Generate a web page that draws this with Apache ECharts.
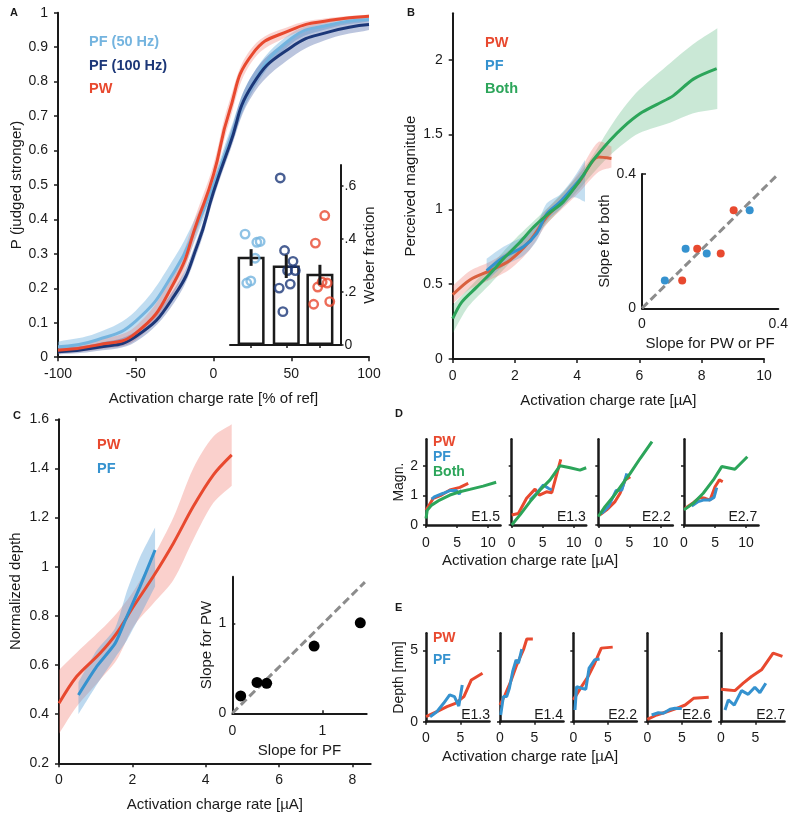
<!DOCTYPE html>
<html>
<head>
<meta charset="utf-8">
<script src="https://cdn.jsdelivr.net/npm/echarts@6/dist/echarts.min.js"></script>
<style>
  html, body { margin: 0; background: #fff; }
  #fig { width: 795px; height: 821px; }
</style>
</head>
<body>
<div id="fig"></div>
<script>
// ---- colours
const INK = '#1a1a1a';
const RED = '#e8492f', LBLUE = '#74b4df', NAVY = '#1c3778', BLUE = '#3592cf', GREEN = '#2ca55a';
const FONT = '"Liberation Sans", Arial, Helvetica, sans-serif';

// ---- A: psychometric curves
const aX = [-100, -75, -50, -25, -10, 0, 10, 25, 50, 75, 100];
const aPW = [0.02, 0.035, 0.07, 0.22, 0.40, 0.53, 0.71, 0.88, 0.95, 0.978, 0.99];
const aPWLo = [0.01, 0.022, 0.05, 0.19, 0.37, 0.50, 0.68, 0.86, 0.935, 0.97, 0.985];
const aPWHi = [0.03, 0.05, 0.09, 0.25, 0.43, 0.56, 0.74, 0.90, 0.962, 0.985, 0.995];
const aPF100 = [0.016, 0.028, 0.06, 0.18, 0.33, 0.48, 0.61, 0.79, 0.90, 0.945, 0.966];
const aPF100Lo = [0.008, 0.018, 0.045, 0.16, 0.31, 0.46, 0.59, 0.76, 0.87, 0.925, 0.95];
const aPF100Hi = [0.026, 0.04, 0.075, 0.20, 0.35, 0.50, 0.64, 0.82, 0.925, 0.965, 0.98];
const aPF50 = [0.03, 0.05, 0.105, 0.25, 0.39, 0.50, 0.62, 0.79, 0.925, 0.965, 0.98];
const aPF50Lo = [0.015, 0.03, 0.075, 0.21, 0.36, 0.48, 0.60, 0.77, 0.91, 0.955, 0.975];
const aPF50Hi = [0.045, 0.07, 0.135, 0.29, 0.42, 0.52, 0.65, 0.82, 0.94, 0.975, 0.988];

// A inset: Weber fractions
const barX = [0.611, 1.629, 2.604];
const barH = [0.333, 0.300, 0.269];
const errLo = [0.299, 0.253, 0.227];
const errHi = [0.362, 0.341, 0.303];
const wPF50X = [0.436, 0.777, 0.873, 0.727, 0.486, 0.602];
const wPF50Y = [0.419, 0.388, 0.391, 0.328, 0.234, 0.242];
const wPF100X = [1.455, 1.580, 1.824, 1.891, 1.667, 1.745, 1.425, 1.532];
const wPF100Y = [0.631, 0.357, 0.316, 0.281, 0.281, 0.230, 0.215, 0.126];
const wPWX = [2.743, 2.473, 2.540, 2.668, 2.813, 2.423, 2.889];
const wPWY = [0.489, 0.385, 0.219, 0.238, 0.234, 0.154, 0.164];

// ---- B: perceived magnitude
const bGreenX = [0, 0.29, 0.77, 1.2, 1.63, 2.16, 2.59, 3.07, 3.55, 4.04, 4.52, 5.05, 5.48, 6.02, 6.55, 7.09, 7.73, 8.48];
const bGreenY = [0.27, 0.38, 0.48, 0.57, 0.67, 0.78, 0.88, 0.97, 1.05, 1.18, 1.33, 1.46, 1.55, 1.64, 1.70, 1.76, 1.87, 1.94];
const bGreenBandX = [0, 0.5, 1.2, 2, 3, 4, 4.5, 5, 5.5, 6, 7, 7.7, 8.5];
const bGreenLo = [0.17, 0.35, 0.5, 0.68, 0.9, 1.12, 1.24, 1.35, 1.44, 1.51, 1.58, 1.64, 1.67];
const bGreenHi = [0.36, 0.47, 0.62, 0.80, 1.0, 1.22, 1.36, 1.53, 1.68, 1.80, 1.98, 2.1, 2.21];
const bRedX = [0, 0.56, 1.2, 1.84, 2.48, 3.02, 3.55, 4.09, 4.68, 5.1];
const bRedY = [0.43, 0.53, 0.59, 0.66, 0.79, 0.95, 1.06, 1.19, 1.35, 1.34];
const bRedLo = [0.37, 0.47, 0.53, 0.60, 0.73, 0.90, 1.01, 1.12, 1.25, 1.28];
const bRedHi = [0.49, 0.59, 0.65, 0.73, 0.85, 1.0, 1.11, 1.26, 1.45, 1.42];
const bBlueX = [1.09, 1.63, 2.27, 2.7, 3.02, 3.45, 3.88, 4.25];
const bBlueY = [0.59, 0.68, 0.75, 0.84, 0.97, 1.05, 1.15, 1.24];
const bBlueLo = [0.52, 0.62, 0.69, 0.79, 0.92, 1.0, 1.08, 1.05];
const bBlueHi = [0.67, 0.75, 0.82, 0.90, 1.04, 1.10, 1.21, 1.33];
// B inset: slopes
const sRedX = [0.269, 0.162, 0.231, 0.118];
const sRedY = [0.292, 0.177, 0.163, 0.083];
const sBlueX = [0.316, 0.128, 0.19, 0.067];
const sBlueY = [0.292, 0.177, 0.163, 0.083];
const diagBX = [0, 0.4], diagBY = [0, 0.4];

// ---- C: normalized depth
const cRedX = [0, 0.48, 1.12, 1.57, 2.03, 2.57, 3.12, 3.66, 4.21, 4.71];
const cRedY = [0.444, 0.553, 0.648, 0.729, 0.838, 0.96, 1.096, 1.245, 1.374, 1.455];
const cRedLo = [0.32, 0.43, 0.54, 0.62, 0.756, 0.85, 0.946, 1.11, 1.26, 1.33];
const cRedHi = [0.58, 0.65, 0.74, 0.81, 0.90, 1.04, 1.20, 1.40, 1.53, 1.58];
const cBlueX = [0.53, 1.03, 1.53, 1.85, 2.21, 2.62];
const cBlueY = [0.478, 0.594, 0.688, 0.797, 0.919, 1.068];
const cBlueLo = [0.40, 0.52, 0.63, 0.70, 0.80, 0.92];
const cBlueHi = [0.53, 0.66, 0.75, 0.90, 1.04, 1.16];
// C inset
const cInX = [0.093, 0.274, 0.381, 0.907, 1.419];
const cInY = [0.193, 0.344, 0.333, 0.748, 1.007];
const diagCX = [0, 1.47], diagCY = [0, 1.46];

// ---- D: magnitude per electrode [x, y]
const dNames = ['E1.5', 'E1.3', 'E2.2', 'E2.7'];
const dPW = [
  [[0, 0.5], [1.18, 0.9], [2.5, 1.01], [3.85, 1.18], [5.45, 1.27], [6.8, 1.4]],
  [[0, 0.34], [1.07, 0.39], [2.4, 0.9], [3.76, 1.21], [4.46, 1.01], [5.6, 1.12], [6.45, 1.09], [7.15, 1.63], [7.9, 2.21]],
  [[0.27, 0.34], [1.35, 0.51], [2.7, 0.79], [3.51, 1.07], [4.32, 1.52], [5.14, 1.63]],
  [[0.16, 0.56], [1.5, 0.75], [2.58, 0.93], [3.4, 0.9], [4.2, 0.84], [5.0, 1.29], [5.7, 1.52], [6.24, 1.46]]
];
const dPF = [
  [[0.9, 0.87], [1.44, 0.96], [2.78, 1.07], [3.85, 1.16], [4.9, 1.16], [5.35, 1.04], [5.7, 1.18]],
  [[2.96, 0.84], [4.03, 1.07], [5.1, 1.35], [5.9, 1.24], [6.45, 1.18]],
  [[0.54, 0.39], [1.62, 0.62], [2.86, 1.16], [3.78, 1.18], [4.6, 1.74]],
  [[1.24, 0.64], [2.3, 0.79], [3.1, 0.84], [4.1, 0.84], [4.84, 0.93], [5.27, 1.26]]
];
const dBoth = [
  [[0, 0.22], [0.2, 0.5], [0.9, 0.67], [2.2, 0.84], [3.85, 1.01], [5.45, 1.12], [7.06, 1.2], [9.2, 1.31], [11.3, 1.44]],
  [[0, 0], [1.34, 0.34], [2.96, 0.79], [4.57, 1.18], [6.18, 1.52], [7.8, 2.0], [9.4, 1.93], [11.0, 1.85], [12, 1.93]],
  [[0, 0.28], [1.08, 0.62], [2.43, 0.96], [3.78, 1.35], [5.14, 1.74], [6.76, 2.25], [8.65, 2.81]],
  [[0, 0.51], [1.5, 0.73], [3.1, 1.07], [4.73, 1.52], [6.08, 1.97], [8.2, 1.88], [10.2, 2.3]]
];

// ---- E: depth per electrode [x, y]
const eNames = ['E1.3', 'E1.4', 'E2.2', 'E2.6', 'E2.7'];
const ePW = [
  [[0, 0.35], [1.57, 0.7], [3.04, 1.06], [4.26, 1.29], [5.49, 1.76], [6.57, 2.93], [8.19, 3.4]],
  [[0, 1.17], [0.73, 1.88], [1.46, 2.7], [2.43, 3.99], [3.4, 5.05], [3.88, 5.8], [4.76, 5.8]],
  [[0, 1.53], [1.19, 2.46], [2.14, 3.17], [3.1, 4.1], [4.05, 5.16], [5.71, 5.23]],
  [[0, 0.16], [1.36, 0.47], [2.82, 0.7], [4.27, 0.94], [5.49, 1.17], [6.7, 1.64], [8.9, 1.71]],
  [[0, 2.28], [1.06, 2.23], [2.02, 2.18], [3.22, 2.7], [4.42, 3.17], [5.87, 3.64], [7.55, 4.81], [8.9, 4.58]]
];
const ePF = [
  [[0.59, 0.35], [1.57, 0.7], [2.55, 1.29], [3.43, 1.88], [4.12, 1.76], [4.75, 1.1], [5.25, 2.58]],
  [[0.1, 0.47], [0.49, 1.76], [0.97, 1.76], [1.36, 2.35], [1.84, 3.52], [2.33, 4.34], [2.67, 4.1], [3.16, 5.09]],
  [[0.24, 0.82], [0.48, 2.46], [1.19, 2.35], [1.81, 2.28], [2.29, 3.76], [3.1, 4.34], [3.81, 4.39]],
  [[0.63, 0.47], [1.6, 0.63], [2.33, 0.59], [3.3, 0.87], [4.03, 0.94], [5.0, 0.92]],
  [[0.58, 0.82], [1.06, 1.53], [1.92, 1.17], [2.98, 2.18], [3.94, 1.92], [4.9, 2.42], [5.63, 2.04], [6.49, 2.7]]
];

// ---- layout
const dLeft = [426, 511.7, 598.3, 684];
const eLeft = [426, 500, 573.3, 647.3, 721];
const grids = [
  {left: 58, top: 12.7, width: 311, height: 344.5},        // 0 A
  {left: 230, top: 165, width: 110.5, height: 180},        // 1 A inset
  {left: 452.7, top: 13.3, width: 311.3, height: 345.7},   // 2 B
  {left: 642, top: 174, width: 136.3, height: 134.3},      // 3 B inset
  {left: 59, top: 419.3, width: 311.7, height: 344},       // 4 C
  {left: 232.3, top: 576.7, width: 134.4, height: 136.6}   // 5 C inset
];
dLeft.forEach(l => grids.push({left: l, top: 439.3, width: 74.5, height: 85.7}));
eLeft.forEach(l => grids.push({left: l, top: 633.3, width: 63.5, height: 88.4}));

function merge(base, extra) {
  const out = Object.assign({}, base);
  Object.keys(extra || {}).forEach(k => {
    const v = extra[k];
    if (v && typeof v === 'object' && !Array.isArray(v) && base[k] && typeof base[k] === 'object') {
      out[k] = merge(base[k], v);
    } else out[k] = v;
  });
  return out;
}
function axis(gi, o) {
  return merge({
    gridIndex: gi, type: 'value', nameLocation: 'middle',
    axisLine: {show: true, onZero: false, lineStyle: {color: INK, width: 2}},
    axisTick: {show: true, length: 4, lineStyle: {color: INK, width: 1.5}},
    axisLabel: {color: INK, fontSize: 14, margin: 10, fontFamily: FONT},
    splitLine: {show: false},
    nameTextStyle: {color: INK, fontSize: 15, fontFamily: FONT}
  }, o);
}

const pts = (xs, ys) => xs.map((x, i) => [x, ys[i]]);
function curve(gi, data, color, width, smooth) {
  return {type: 'line', xAxisIndex: gi, yAxisIndex: gi, data, symbol: 'none',
    smooth: smooth || false, lineStyle: {color, width: width || 3}, z: 3, silent: true};
}
// shaded band between lo and hi, drawn as one polygon through the axes' scales;
// end vertices are doubled so the smoothing keeps square ends
function band(gi, xs, lo, hi, color, smooth) {
  return {type: 'custom', xAxisIndex: gi, yAxisIndex: gi, z: 2, silent: true, clip: true,
    data: xs.map((x, i) => [x, lo[i], hi[i]]), encode: {x: 0, y: [1, 2]},
    renderItem: (params, api) => {
      if (params.dataIndex !== 0) return null;
      const top = xs.map((x, i) => api.coord([x, hi[i]]));
      const bot = xs.map((x, i) => api.coord([x, lo[i]])).reverse();
      const ring = [top[0]].concat(top, [top[top.length - 1]], [bot[0]], bot, [bot[bot.length - 1]]);
      return {type: 'polygon', shape: {points: ring, smooth: smooth || 0}, style: {fill: color}};
    }};
}
function dots(gi, xs, ys, color, size, hollow) {
  return {type: 'scatter', xAxisIndex: gi, yAxisIndex: gi, data: pts(xs, ys), symbolSize: size,
    itemStyle: hollow ? {color: 'rgba(0,0,0,0)', borderColor: color, borderWidth: 2.4} : {color, opacity: 1}, z: 5, silent: true};
}
function dashed(gi, xs, ys) {
  return {type: 'line', xAxisIndex: gi, yAxisIndex: gi, data: pts(xs, ys), symbol: 'none',
    lineStyle: {color: '#8c8c8c', width: 3, type: [8, 4]}, z: 3, silent: true};
}

// ---- axes
const xAxes = [
  axis(0, {min: -100, max: 100, interval: 50, name: 'Activation charge rate [% of ref]', nameGap: 34}),
  axis(1, {min: 0, max: 3.2, axisLabel: {show: false},
    axisTick: {customValues: barX, length: 3}}),
  axis(2, {min: 0, max: 10, interval: 2, name: 'Activation charge rate [µA]', nameGap: 34}),
  axis(3, {min: 0, max: 0.4, name: 'Slope for PW or PF', nameGap: 28,
    axisTick: {show: false}, axisLabel: {customValues: [0, 0.4], margin: 9}}),
  axis(4, {min: 0, max: 8.5, name: 'Activation charge rate [µA]', nameGap: 34,
    axisTick: {customValues: [0, 2, 4, 6, 8]}, axisLabel: {customValues: [0, 2, 4, 6, 8]}}),
  axis(5, {min: 0, max: 1.49, name: 'Slope for PF', nameGap: 30,
    axisTick: {customValues: [1], inside: true, length: 3}, axisLabel: {customValues: [0, 1], margin: 11}})
];
const yAxes = [
  axis(0, {min: 0, max: 1, interval: 0.1, name: 'P (judged stronger)', nameGap: 34}),
  axis(1, {min: 0, max: 0.68, position: 'right', name: 'Weber fraction', nameGap: 22, nameRotate: 90,
    axisTick: {customValues: [0, 0.2, 0.4, 0.6], length: 3},
    axisLabel: {customValues: [0, 0.2, 0.4, 0.6], margin: 4,
      formatter: v => v === 0 ? '0' : String(+v.toFixed(1)).replace('0.', '.')}}),
  axis(2, {min: 0, max: 2.31, name: 'Perceived magnitude', nameGap: 34,
    axisTick: {customValues: [0, 0.5, 1, 1.5, 2]}, axisLabel: {customValues: [0, 0.5, 1, 1.5, 2]}}),
  axis(3, {min: 0, max: 0.4, name: 'Slope for both', nameGap: 16,
    axisTick: {customValues: [0.4], inside: true, length: 4}, axisLabel: {customValues: [0, 0.4], margin: 6}}),
  axis(4, {min: 0.2, max: 1.6, interval: 0.2, name: 'Normalized depth', nameGap: 36}),
  axis(5, {min: 0, max: 1.52, name: 'Slope for PW', nameGap: 16,
    axisTick: {customValues: [1], inside: true, length: 3}, axisLabel: {customValues: [0, 1], margin: 6}})
];
dLeft.forEach((l, k) => {
  const gi = 6 + k;
  xAxes.push(axis(gi, {min: 0, max: 12, axisLine: {lineStyle: {width: 2.5}},
    axisTick: {customValues: [0, 5, 10], length: 3}, axisLabel: {customValues: [0, 5, 10], margin: 11}}));
  yAxes.push(axis(gi, {min: 0, max: 2.89, axisLine: {lineStyle: {width: 2.5}},
    name: k === 0 ? 'Magn.' : '', nameGap: 18, nameTextStyle: {fontSize: 14},
    axisTick: {customValues: [0, 1, 2], length: 3},
    axisLabel: {show: k === 0, customValues: [0, 1, 2], margin: 8}}));
});
eLeft.forEach((l, k) => {
  const gi = 10 + k;
  xAxes.push(axis(gi, {min: 0, max: 9.2, axisLine: {lineStyle: {width: 2.5}},
    axisTick: {customValues: [0, 5], length: 3}, axisLabel: {customValues: [0, 5], margin: 9}}));
  yAxes.push(axis(gi, {min: 0, max: 6.2, axisLine: {lineStyle: {width: 2.5}},
    name: k === 0 ? 'Depth [mm]' : '', nameGap: 18, nameTextStyle: {fontSize: 14},
    axisTick: {customValues: [0, 5], length: 3},
    axisLabel: {show: k === 0, customValues: [0, 5], margin: 8}}));
});

// ---- series
const series = [];
// A
series.push(band(0, aX, aPF50Lo, aPF50Hi, 'rgba(116,180,223,0.45)', 0.4));
series.push(band(0, aX, aPWLo, aPWHi, 'rgba(240,130,120,0.35)', 0.4));
series.push(band(0, aX, aPF100Lo, aPF100Hi, 'rgba(60,90,160,0.35)', 0.4));
series.push(curve(0, pts(aX, aPF50), LBLUE, 3, true));
series.push(curve(0, pts(aX, aPF100), NAVY, 3, true));
series.push(curve(0, pts(aX, aPW), RED, 3, true));
// A inset
series.push({type: 'bar', xAxisIndex: 1, yAxisIndex: 1, data: pts(barX, barH), barWidth: 27,
  itemStyle: {color: '#fff', borderColor: INK, borderWidth: 2.5}, z: 4, silent: true});
series.push({type: 'custom', xAxisIndex: 1, yAxisIndex: 1, z: 6, silent: true,
  data: barX.map((x, i) => [x, errLo[i], errHi[i]]),
  encode: {x: 0, y: [1, 2]},
  renderItem: (p, api) => {
    const a = api.coord([api.value(0), api.value(1)]);
    const b = api.coord([api.value(0), api.value(2)]);
    return {type: 'line', shape: {x1: a[0], y1: a[1], x2: b[0], y2: b[1]}, style: {stroke: INK, lineWidth: 3}};
  }});
series.push(dots(1, wPF50X, wPF50Y, LBLUE, 8.5, true));
series.push(dots(1, wPF100X, wPF100Y, NAVY, 8.5, true));
series.push(dots(1, wPWX, wPWY, RED, 8.5, true));
// B
series.push(band(2, bGreenBandX, bGreenLo, bGreenHi, 'rgba(44,165,90,0.25)', 0.3));
series.push(band(2, bRedX, bRedLo, bRedHi, 'rgba(240,110,100,0.3)', 0.3));
series.push(band(2, bBlueX, bBlueLo, bBlueHi, 'rgba(60,150,210,0.3)', 0.3));
series.push(curve(2, pts(bRedX, bRedY), '#d9603f', 3, 0.3));
series.push(curve(2, pts(bBlueX, bBlueY), BLUE, 3, 0.3));
series.push(curve(2, pts(bGreenX, bGreenY), GREEN, 3, 0.3));
// B inset
series.push(dashed(3, diagBX, diagBY));
series.push(dots(3, sRedX, sRedY, RED, 8));
series.push(dots(3, sBlueX, sBlueY, BLUE, 8));
// C
series.push(band(4, cRedX, cRedLo, cRedHi, 'rgba(240,120,110,0.35)', 0.3));
series.push(band(4, cBlueX, cBlueLo, cBlueHi, 'rgba(90,160,215,0.4)', 0.2));
series.push(curve(4, pts(cRedX, cRedY), RED, 3, 0.3));
series.push(curve(4, pts(cBlueX, cBlueY), BLUE, 3, 0.2));
// C inset
series.push(dashed(5, diagCX, diagCY));
series.push(dots(5, cInX, cInY, '#000', 11));
// D
dPW.forEach((d, k) => {
  series.push(curve(6 + k, d, RED, 3));
  series.push(curve(6 + k, dPF[k], BLUE, 3));
  series.push(curve(6 + k, dBoth[k], GREEN, 3));
});
// E
ePW.forEach((d, k) => {
  series.push(curve(10 + k, d, RED, 3));
  series.push(curve(10 + k, ePF[k], BLUE, 3));
});

// ---- text
function txt(x, y, text, fill, size, bold, align) {
  return {type: 'text', z: 100, style: {x, y, text, fill: fill || INK, align: align || 'left', verticalAlign: 'middle',
    font: (bold ? 'bold ' : '') + (size || 14) + 'px ' + FONT}};
}
const texts = [
  txt(10, 13, 'A', INK, 11, true), txt(407, 13, 'B', INK, 11, true), txt(13, 416, 'C', INK, 11, true),
  txt(395, 414, 'D', INK, 11, true), txt(395, 608, 'E', INK, 11, true),
  txt(89, 42, 'PF (50 Hz)', LBLUE, 14.5, true), txt(89, 66, 'PF (100 Hz)', NAVY, 14.5, true), txt(89, 89, 'PW', RED, 14.5, true),
  txt(485, 43, 'PW', RED, 14.5, true), txt(485, 66, 'PF', BLUE, 14.5, true), txt(485, 89, 'Both', GREEN, 14.5, true),
  txt(97, 445, 'PW', RED, 14.5, true), txt(97, 469, 'PF', BLUE, 14.5, true),
  txt(433, 442, 'PW', RED, 14, true), txt(433, 457, 'PF', BLUE, 14, true), txt(433, 472, 'Both', GREEN, 14, true),
  txt(433, 638, 'PW', RED, 14, true), txt(433, 660, 'PF', BLUE, 14, true),
  txt(530, 561, 'Activation charge rate [µA]', INK, 15, false, 'center'),
  txt(530, 757, 'Activation charge rate [µA]', INK, 15, false, 'center')
];
const dRight = [500, 585.7, 670.7, 757.3];
dNames.forEach((n, k) => texts.push(txt(dRight[k], 517, n, INK, 14, false, 'right')));
const eRight = [490, 563, 637, 710.7, 785];
eNames.forEach((n, k) => texts.push(txt(eRight[k], 715, n, INK, 14, false, 'right')));

const chart = echarts.init(document.getElementById('fig'));
chart.setOption({
  animation: false,
  backgroundColor: '#fff',
  textStyle: {fontFamily: FONT},
  grid: grids,
  xAxis: xAxes,
  yAxis: yAxes,
  series,
  graphic: texts
});
</script>
</body>
</html>
